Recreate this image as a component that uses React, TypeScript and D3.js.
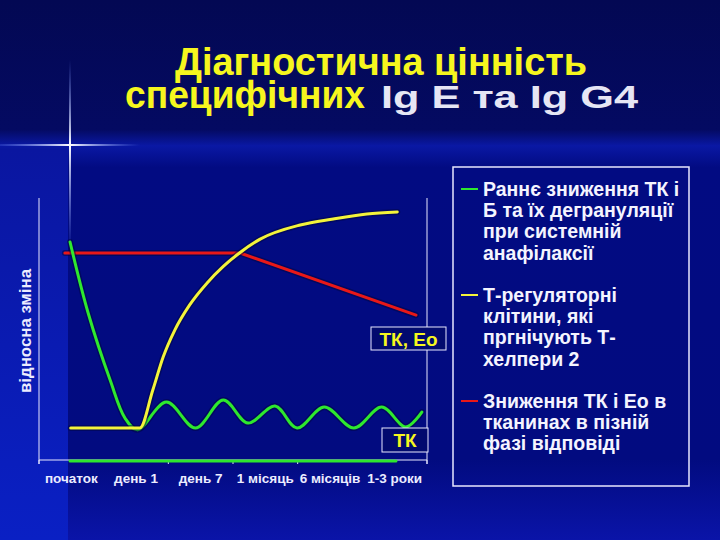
import React from "react";
import * as d3 from "d3";

const W = 720;
const H = 540;

// categories on the x axis (one band each)
const categories = ["початок", "день 1", "день 7", "1 місяць", "6 місяців", "1-3 роки"];
const tickPositions = [0, 2, 3, 4, 6];

// red: ТК і Ео в тканинах
const redX = [0.4, 3.11, 5.83];
const redY = [79, 79, 55.3];

// yellow: Т-регуляторні клітини
const yellowX = [0.49, 1.56, 1.76, 1.92, 2.1, 2.33, 2.6, 2.85, 3.11, 3.42, 4.04, 4.55, 5.07, 5.54];
const yellowY = [12.2, 12.2, 26.7, 39.3, 49.6, 59.2, 67.6, 73.9, 79.2, 84.3, 89.7, 92.0, 93.9, 94.7];

// green: ТК і Б
const greenX = [0.48, 0.76, 1.1, 1.33, 1.52, 1.97, 2.42, 2.85, 3.23, 3.65, 3.99, 4.41, 4.87, 5.3, 5.67, 5.92];
const greenY = [83.2, 56.1, 30.5, 16.0, 11.5, 22.1, 12.2, 22.9, 14.1, 20.6, 12.2, 20.2, 12.2, 20.2, 12.6, 18.3];

// green baseline along the axis
const baseX = [0.48, 5.52];
const baseY = [-0.4, -0.4];

const legendItems = [
  { color: "#2ee82e", lines: ["Раннє зниження ТК і", "Б та їх дегрануляції", "при системній", "анафілаксії"] },
  { color: "#f4f43a", lines: ["Т-регуляторні", "клітини, які", "пргнічують Т-", "хелпери 2"] },
  { color: "#e81818", lines: ["Зниження ТК і Ео в", "тканинах в пізній", "фазі відповіді"] },
];

const FONT = "'Liberation Sans', Arial, sans-serif";

export default function App() {
  const x = d3.scaleLinear().domain([0, 6]).range([39, 427]);
  const y = d3.scaleLinear().domain([0, 100]).range([460, 198]);

  const pts = (xs: number[], ys: number[]) => xs.map((v, i) => [v, ys[i]] as [number, number]);
  const lin = d3.line<[number, number]>().x((d) => x(d[0])).y((d) => y(d[1]));
  const redPath = lin.curve(d3.curveLinear)(pts(redX, redY)) || "";
  const yellowPath = lin.curve(d3.curveMonotoneX)(pts(yellowX, yellowY)) || "";
  const greenPath = lin.curve(d3.curveCatmullRom.alpha(0.5))(pts(greenX, greenY)) || "";
  const basePath = lin.curve(d3.curveLinear)(pts(baseX, baseY)) || "";

  const lineH = 21.2;
  let row = 0;

  return (
    <svg width={W} height={H} style={{ position: "absolute", left: 0, top: 0, display: "block" }}>
      <defs>
        <linearGradient id="bgMain" x1="0" y1="0" x2="0" y2="1">
          <stop offset="0" stopColor="#030853" />
          <stop offset="0.24" stopColor="#040a62" />
          <stop offset="0.27" stopColor="#0a18a4" />
          <stop offset="0.31" stopColor="#020b82" />
          <stop offset="0.85" stopColor="#020b80" />
          <stop offset="1" stopColor="#0a14a8" />
        </linearGradient>
        <linearGradient id="bgLeft" x1="0" y1="0" x2="0" y2="1">
          <stop offset="0" stopColor="#0a16a0" />
          <stop offset="1" stopColor="#0a20c4" />
        </linearGradient>
        <linearGradient id="vGlow" x1="0" y1="0" x2="0" y2="1">
          <stop offset="0" stopColor="#6f8cff" stopOpacity="0" />
          <stop offset="0.45" stopColor="#ffffff" stopOpacity="1" />
          <stop offset="1" stopColor="#6f8cff" stopOpacity="0" />
        </linearGradient>
        <linearGradient id="hGlow" x1="0" y1="0" x2="1" y2="0">
          <stop offset="0" stopColor="#6f8cff" stopOpacity="0.2" />
          <stop offset="0.5" stopColor="#ffffff" stopOpacity="1" />
          <stop offset="1" stopColor="#6f8cff" stopOpacity="0" />
        </linearGradient>
      </defs>

      {/* background */}
      <rect x={0} y={0} width={W} height={H} fill="url(#bgMain)" />
      <rect x={0} y={150} width={68} height={H - 150} fill="url(#bgLeft)" />
      <rect x={69} y={60} width={2} height={190} fill="url(#vGlow)" />
      <rect x={0} y={144} width={140} height={2} fill="url(#hGlow)" />

      {/* title */}
      <g fontFamily={FONT} fontWeight="bold">
        <text x={175} y={75} fill="#f6f61e" fontSize={39} textLength={412} lengthAdjust="spacingAndGlyphs">
          Діагностична цінність
        </text>
        <text x={125} y={108} fill="#f6f61e" fontSize={39} textLength={240} lengthAdjust="spacingAndGlyphs">
          специфічних
        </text>
        <text x={381} y={108} fill="#e6e6f4" fontSize={32} textLength={257} lengthAdjust="spacingAndGlyphs">
          Ig E та Ig G4
        </text>
      </g>

      {/* axes frame */}
      <g stroke="#e8e8ff" strokeWidth={1}>
        <line x1={x(0)} x2={x(0)} y1={y(100)} y2={y(0) + 4} />
        <line x1={x(6)} x2={x(6)} y1={y(100)} y2={y(0) + 4} />
        <line x1={x(0)} x2={x(6)} y1={y(0)} y2={y(0)} />
        {tickPositions.map((t) => (
          <line key={t} x1={x(t)} x2={x(t)} y1={y(0)} y2={y(0) + 4} />
        ))}
      </g>

      {/* tick labels */}
      <g fontFamily={FONT} fontWeight="bold" fontSize={13.5} fill="#ececff" textAnchor="middle">
        {categories.map((c, i) => (
          <text key={c} x={x(i + 0.5)} y={483}>
            {c}
          </text>
        ))}
      </g>

      {/* y label */}
      <text
        transform={`translate(31, ${(y(0) + y(100)) / 2 + 2}) rotate(-90)`}
        textAnchor="middle"
        fontFamily={FONT}
        fontWeight="bold"
        fontSize={16}
        fill="#ececff"
        textLength={124}
        lengthAdjust="spacingAndGlyphs"
      >
        відносна зміна
      </text>

      {/* series */}
      <g fill="none" strokeLinecap="round" strokeLinejoin="round">
        <path d={basePath} stroke="#2ee82e" strokeWidth={3} />
        <path d={redPath} stroke="#000640" strokeOpacity={0.5} strokeWidth={6} />
        <path d={redPath} stroke="#e81818" strokeWidth={3} />
        <path d={greenPath} stroke="#000640" strokeOpacity={0.5} strokeWidth={6} />
        <path d={greenPath} stroke="#2ee82e" strokeWidth={3} />
        <path d={yellowPath} stroke="#000640" strokeOpacity={0.5} strokeWidth={6} />
        <path d={yellowPath} stroke="#f4f43a" strokeWidth={3} />
      </g>

      {/* label boxes */}
      <g fontFamily={FONT} fontWeight="bold" fontSize={19} fill="#f6f61e">
        <rect x={371} y={327} width={75} height={23} fill="#020a6e" stroke="#e8e8ff" strokeWidth={1} />
        <text x={408.5} y={346} textAnchor="middle">ТК, Ео</text>
        <rect x={382} y={428} width={46} height={24} fill="#020a6e" stroke="#e8e8ff" strokeWidth={1} />
        <text x={405} y={447} textAnchor="middle">ТК</text>
      </g>

      {/* legend */}
      <rect x={453} y={167} width={236} height={319} fill="none" stroke="#e8e8ff" strokeWidth={1.5} />
      <g fontFamily={FONT} fontWeight="bold" fontSize={19.5} fill="#f4f4ff">
        {legendItems.map((item, k) => {
          const start = row;
          row += item.lines.length + 1;
          const y0 = 196 + start * lineH;
          return (
            <g key={k}>
              <line x1={461} x2={478} y1={y0 - 7} y2={y0 - 7} stroke={item.color} strokeWidth={2} />
              {item.lines.map((l, j) => (
                <text key={j} x={483} y={y0 + j * lineH}>
                  {l}
                </text>
              ))}
            </g>
          );
        })}
      </g>
    </svg>
  );
}
